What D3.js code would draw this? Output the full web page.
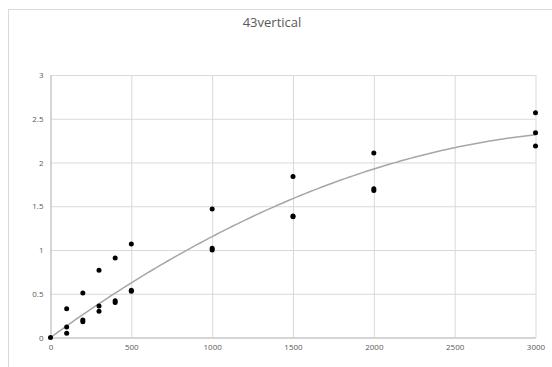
<!DOCTYPE html>
<html>
<head>
<meta charset="utf-8">
<script src="https://cdn.jsdelivr.net/npm/d3@7"></script>
<style>
  body { margin: 0; background: #fff; }
  text { font-family: "Open Sans", "Liberation Sans", sans-serif; fill: #595959; }
</style>
</head>
<body>
<div class="container"></div>
<script>
const title = '43vertical';

const xs = [0,
  100, 100, 100,
  200, 200, 200,
  300, 300, 300,
  400, 400, 400,
  500, 500, 500,
  1000, 1000, 1000,
  1500, 1500, 1500,
  2000, 2000, 2000,
  3000, 3000, 3000];
const ys = [0,
  0.33, 0.12, 0.05,
  0.51, 0.20, 0.18,
  0.77, 0.36, 0.30,
  0.91, 0.42, 0.40,
  1.07, 0.54, 0.53,
  1.47, 1.02, 1.00,
  1.84, 1.39, 1.38,
  2.11, 1.70, 1.68,
  2.57, 2.34, 2.19];

const xTicks = [0, 500, 1000, 1500, 2000, 2500, 3000];
const yTicks = [0, 0.5, 1, 1.5, 2, 2.5, 3];

const width = 552;
const height = 367;
const plot = {left: 50.5, right: 535.5, top: 75, bottom: 337.5};

// 2nd order polynomial fit with intercept fixed at 0: y = a*x + b*x^2
const polyFit0 = (x, y) => {
  let s2 = 0, s3 = 0, s4 = 0, t1 = 0, t2 = 0;
  x.forEach((xi, i) => {
    s2 += xi * xi; s3 += xi ** 3; s4 += xi ** 4;
    t1 += xi * y[i]; t2 += xi * xi * y[i];
  });
  const det = s2 * s4 - s3 * s3;
  const a = (t1 * s4 - s3 * t2) / det;
  const b = (s2 * t2 - s3 * t1) / det;
  return [a, b];
};
const [a, b] = polyFit0(xs, ys);

const svg = d3.select('.container')
  .append('svg')
  .attr('width', width)
  .attr('height', height);

// chart border
svg.append('rect')
  .attr('x', 8.5).attr('y', 9.5)
  .attr('width', width).attr('height', height)
  .attr('fill', 'none')
  .attr('stroke', '#d9d9d9');

svg.append('text')
  .attr('x', 272).attr('y', 27)
  .attr('text-anchor', 'middle')
  .style('font-size', '13px')
  .text(title);

const x = d3.scaleLinear().domain([0, 3000]).range([plot.left, plot.right]);
const y = d3.scaleLinear().domain([0, 3]).range([plot.bottom, plot.top]);

// gridlines
svg.append('g')
  .attr('transform', `translate(0,${plot.bottom})`)
  .call(d3.axisBottom(x).tickValues(xTicks).tickSize(-(plot.bottom - plot.top)).tickFormat(''))
  .call(g => g.select('.domain').remove())
  .call(g => g.selectAll('line').attr('stroke', '#d9d9d9'));
svg.append('g')
  .attr('transform', `translate(${plot.left},0)`)
  .call(d3.axisLeft(y).tickValues(yTicks).tickSize(-(plot.right - plot.left)).tickFormat(''))
  .call(g => g.select('.domain').remove())
  .call(g => g.selectAll('line').attr('stroke', '#d9d9d9'));

// axis lines + labels
svg.append('g')
  .attr('transform', `translate(0,${plot.bottom})`)
  .call(d3.axisBottom(x).tickValues(xTicks).tickSize(0).tickPadding(7).tickFormat(d3.format('d')))
  .call(g => g.select('.domain').attr('stroke', '#bfbfbf'))
  .call(g => g.selectAll('text').style('font-size', '8px'));
svg.append('g')
  .attr('transform', `translate(${plot.left},0)`)
  .call(d3.axisLeft(y).tickValues(yTicks).tickSize(0).tickPadding(7).tickFormat(d => d))
  .call(g => g.select('.domain').attr('stroke', '#bfbfbf'))
  .call(g => g.selectAll('text').style('font-size', '8px'));

// trendline
const trend = d3.range(0, 3001, 25).map(v => [v, a * v + b * v * v]);
svg.append('path')
  .datum(trend)
  .attr('fill', 'none')
  .attr('stroke', '#a6a6a6')
  .attr('stroke-width', 1.5)
  .attr('d', d3.line().x(d => x(d[0])).y(d => y(d[1])));

svg.append('g')
  .selectAll('circle')
  .data(xs.map((v, i) => [v, ys[i]]))
  .join('circle')
  .attr('cx', d => x(d[0]))
  .attr('cy', d => y(d[1]))
  .attr('r', 2.5)
  .attr('fill', '#000');
</script>
</body>
</html>
